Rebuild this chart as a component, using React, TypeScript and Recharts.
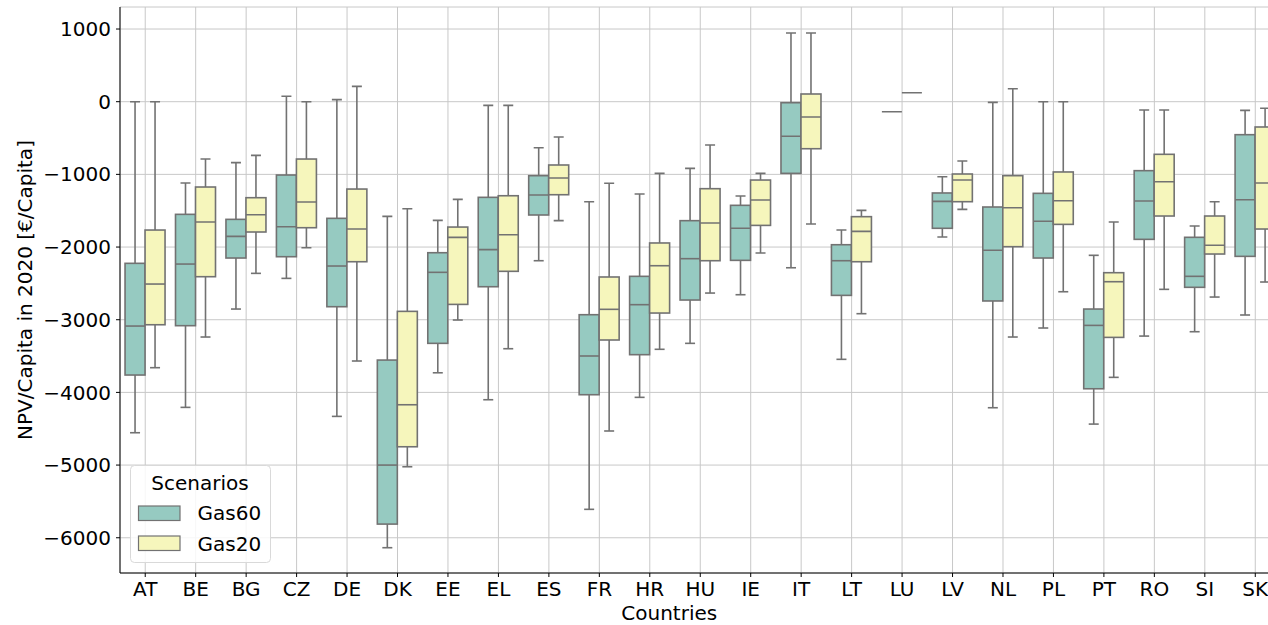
import React from 'react';
import { ComposedChart, Bar, XAxis, YAxis, CartesianGrid, Legend, Label } from 'recharts';

const countries = ['AT','BE','BG','CZ','DE','DK','EE','EL','ES','FR','HR','HU','IE','IT','LT','LU','LV','NL','PL','PT','RO','SI','SK'];
const seriesNames = ['Gas60', 'Gas20'];

// Gas60 box statistics
const g60Min = [-4555,-4206,-2853,-2431,-4330,-6137,-3730,-4101,-2188,-5609,-4068,-3325,-2656,-2285,-3545,-138,-1862,-4211,-3114,-4436,-3225,-3165,-2935];
const g60Q1  = [-3761,-3082,-2151,-2133,-2821,-5812,-3325,-2546,-1559,-4032,-3481,-2729,-2183,-986,-2665,-138,-1742,-2742,-2151,-3950,-1894,-2554,-2128];
const g60Med = [-3087,-2234,-1853,-1720,-2261,-5000,-2348,-2036,-1284,-3499,-2793,-2160,-1742,-476,-2188,-138,-1371,-2045,-1646,-3078,-1367,-2403,-1349];
const g60Q3  = [-2224,-1550,-1619,-1009,-1605,-3555,-2078,-1316,-1018,-2931,-2403,-1637,-1426,-14,-1968,-138,-1256,-1449,-1261,-2853,-949,-1866,-454];
const g60Max = [0,-1119,-839,74,28,-1578,-1633,-50,-633,-1376,-1270,-917,-1298,945,-1766,-138,-1032,-9,0,-2114,-114,-1711,-119];

// Gas20 box statistics
const g20Min = [-3660,-3238,-2362,-2009,-3568,-5023,-3004,-3399,-1637,-4531,-3407,-2633,-2082,-1683,-2917,124,-1481,-3238,-2615,-3793,-2582,-2688,-2481];
const g20Q1  = [-3069,-2408,-1793,-1734,-2202,-4748,-2789,-2334,-1280,-3279,-2908,-2188,-1702,-647,-2202,124,-1376,-1995,-1688,-3243,-1573,-2096,-1752];
const g20Med = [-2509,-1656,-1555,-1380,-1752,-4170,-1867,-1830,-1050,-2857,-2257,-1669,-1353,-211,-1784,124,-1078,-1459,-1362,-2477,-1101,-1976,-1119];
const g20Q3  = [-1766,-1174,-1321,-789,-1202,-2885,-1725,-1294,-871,-2412,-1944,-1197,-1078,106,-1582,124,-995,-1018,-967,-2353,-724,-1573,-348];
const g20Max = [0,-789,-738,0,211,-1472,-1344,-50,-486,-1123,-986,-596,-986,945,-1495,124,-816,179,0,-1655,-114,-1376,-91];

const yTicks = [-6000,-5000,-4000,-3000,-2000,-1000,0,1000];

const data = countries.map((c, i) => ({
  country: c,
  g60: [g60Min[i], g60Max[i]],
  g60Min: g60Min[i], g60Q1: g60Q1[i], g60Med: g60Med[i], g60Q3: g60Q3[i], g60Max: g60Max[i],
  g20: [g20Min[i], g20Max[i]],
  g20Min: g20Min[i], g20Q1: g20Q1[i], g20Med: g20Med[i], g20Q3: g20Q3[i], g20Max: g20Max[i],
}));

const FONT = "'DejaVu Sans', sans-serif";
const EDGE = '#727272';
const C60 = '#96cac1';
const C20 = '#f6f6bc';

const makeBoxShape = (p: string, fill: string) => (props: any) => {
  const { x, y, width, height, payload } = props;
  if (x == null || y == null || !payload) return <g />;
  const mn = payload[p + 'Min'], q1 = payload[p + 'Q1'], md = payload[p + 'Med'], q3 = payload[p + 'Q3'], mx = payload[p + 'Max'];
  const h = height || 0;
  const top = Math.min(y, y + h);
  const bot = Math.max(y, y + h);
  const span = mx - mn;
  const py = (v: number) => (span === 0 ? top : top + ((mx - v) / span) * (bot - top));
  const cx = x + width / 2;
  const cap = width / 4;
  const sw = 1.6;
  if (span === 0) {
    return <g><line x1={x} x2={x + width} y1={top} y2={top} stroke={EDGE} strokeWidth={sw} /></g>;
  }
  return (
    <g>
      <line x1={cx} x2={cx} y1={py(mx)} y2={py(q3)} stroke={EDGE} strokeWidth={sw} />
      <line x1={cx} x2={cx} y1={py(q1)} y2={py(mn)} stroke={EDGE} strokeWidth={sw} />
      <line x1={cx - cap} x2={cx + cap} y1={py(mx)} y2={py(mx)} stroke={EDGE} strokeWidth={sw} />
      <line x1={cx - cap} x2={cx + cap} y1={py(mn)} y2={py(mn)} stroke={EDGE} strokeWidth={sw} />
      <rect x={x} y={py(q3)} width={width} height={Math.max(py(q1) - py(q3), 0)} fill={fill} stroke={EDGE} strokeWidth={sw} />
      <line x1={x} x2={x + width} y1={py(md)} y2={py(md)} stroke={EDGE} strokeWidth={sw} />
    </g>
  );
};

const fmt = (v: number) => (v < 0 ? '\u2212' + Math.abs(v) : String(v));

const renderLegend = (props: any) => {
  const payload = [...(props.payload || [])].sort(
    (a: any, b: any) => seriesNames.indexOf(a.value) - seriesNames.indexOf(b.value)
  );
  return (
    <svg width={141} height={98} style={{ display: 'block', fontFamily: FONT }}>
      <rect x={0.5} y={0.5} width={140} height={97} rx={4} ry={4} fill="#ffffff" fillOpacity={0.85} stroke="#d9d9d9" />
      <text x={70} y={25} textAnchor="middle" fontSize={20} fill="#000">Scenarios</text>
      {payload.map((e: any, i: number) => (
        <g key={i}>
          <rect x={8.5} y={41 + i * 30} width={41.5} height={14.5} fill={e.color} stroke={EDGE} strokeWidth={1.2} />
          <text x={67.5} y={55 + i * 30.5} fontSize={20} fill="#000">{e.value}</text>
        </g>
      ))}
    </svg>
  );
};

export default function App() {
  return (
    <div style={{ position: 'absolute', left: 0, top: 0, width: 1268, height: 625, overflow: 'hidden', background: '#fff', fontFamily: FONT }}>
      <ComposedChart
        width={1300}
        height={625}
        data={data}
        margin={{ top: 7, right: 19.5, left: 0, bottom: 0 }}
        barCategoryGap="10%"
        barGap={0}
      >
        <CartesianGrid stroke="#c8c8c8" strokeWidth={1} />
        <XAxis
          dataKey="country"
          height={52}
          interval={0}
          tickSize={4}
          tickMargin={5}
          tick={{ fontSize: 20, fill: '#000', fontFamily: FONT }}
          axisLine={{ stroke: '#000', strokeWidth: 1 }}
          tickLine={{ stroke: '#000' }}
        >
          <Label value="Countries" position="insideBottom" offset={5} dx={-31} style={{ fontSize: 20, fill: '#000', fontFamily: FONT }} />
        </XAxis>
        <XAxis
          xAxisId="top"
          orientation="top"
          dataKey="country"
          height={0}
          tick={false}
          tickLine={false}
          axisLine={{ stroke: '#000', strokeWidth: 1 }}
        />
        <YAxis
          type="number"
          domain={[-6485, 1303]}
          allowDataOverflow
          ticks={yTicks}
          interval={0}
          width={120}
          tickFormatter={fmt}
          tickSize={4}
          tickMargin={5}
          tick={{ fontSize: 20, fill: '#000', fontFamily: FONT }}
          axisLine={{ stroke: '#000', strokeWidth: 1 }}
          tickLine={{ stroke: '#000' }}
        >
          <Label value="NPV/Capita in 2020 [€/Capita]" angle={-90} position="center" dx={-35.5} style={{ fontSize: 20, fill: '#000', fontFamily: FONT, textAnchor: 'middle' }} />
        </YAxis>
        <Legend
          layout="horizontal"
          verticalAlign="middle"
          align="center"
          wrapperStyle={{ left: 130, top: 465, width: 141, height: 98 }}
          content={renderLegend}
        />
        <Bar dataKey="g60" name="Gas60" fill={C60} isAnimationActive={false} shape={makeBoxShape('g60', C60)} />
        <Bar dataKey="g20" name="Gas20" fill={C20} isAnimationActive={false} shape={makeBoxShape('g20', C20)} />
      </ComposedChart>
    </div>
  );
}
